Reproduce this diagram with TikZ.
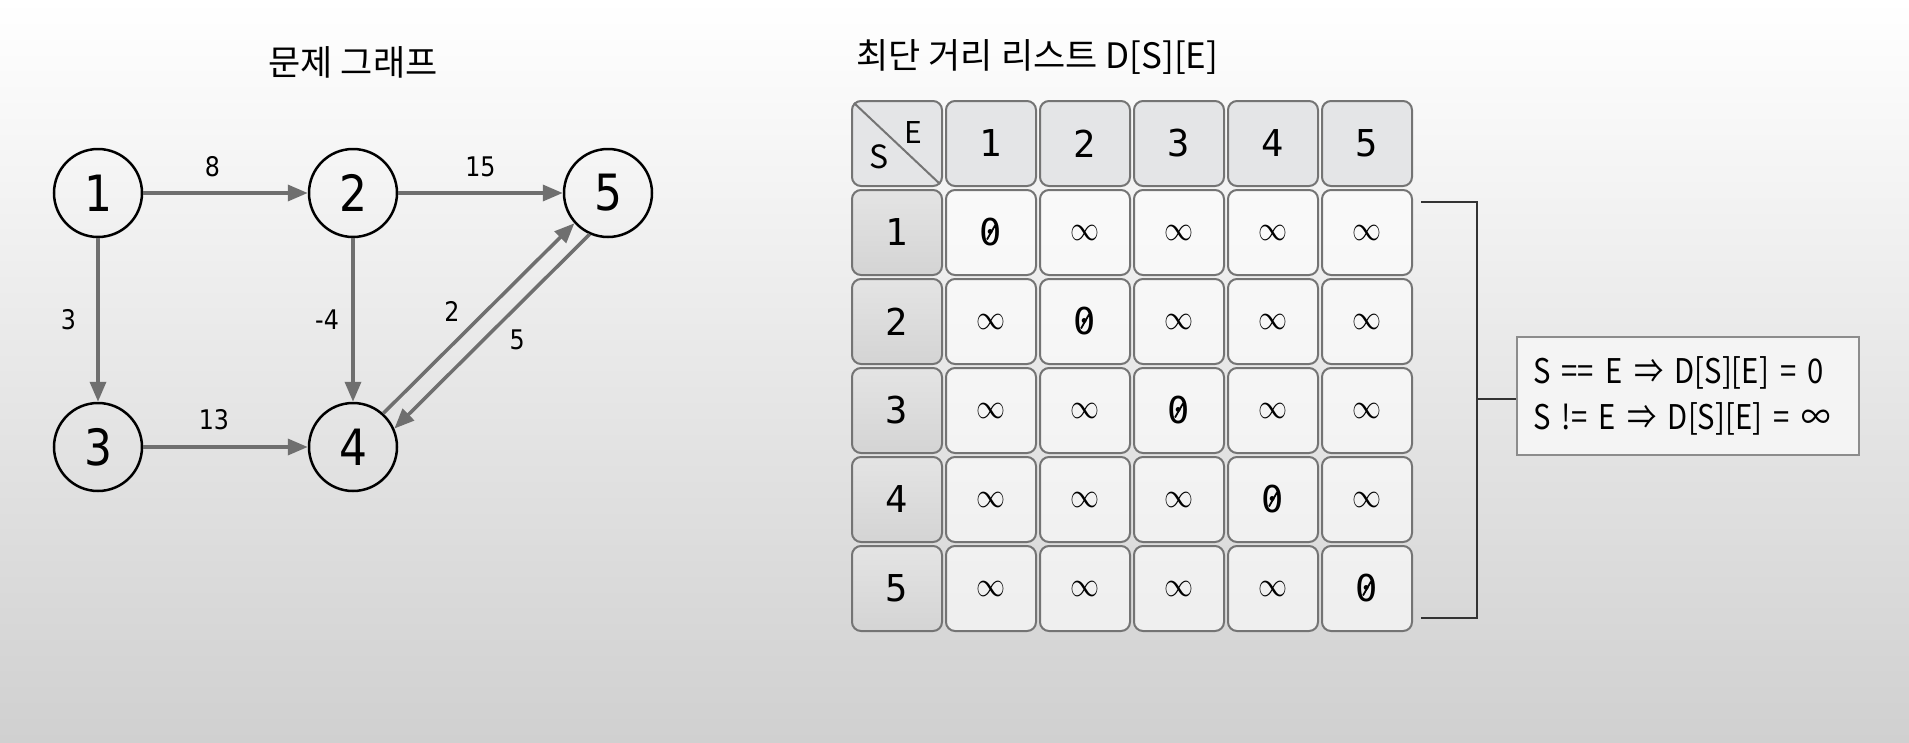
\documentclass[tikz,border=0pt]{standalone}
\usepackage{fontspec}
\usepackage{graphicx}
\usetikzlibrary{arrows.meta,positioning}
\setmainfont{Noto Sans CJK KR}
\newfontfamily\graphfont[FakeStretch=0.88]{DejaVu Sans}
\newfontfamily\cellfont{DejaVu Sans Mono}
\newfontfamily\rulefont[FakeStretch=0.86]{Noto Sans CJK KR}
\newcommand{\inftyval}{\resizebox{29pt}{15pt}{$\infty$}}
\definecolor{arrowgray}{HTML}{6F6F6F}
\definecolor{cellline}{HTML}{747474}
\definecolor{headfill}{HTML}{E4E5E7}
\definecolor{sidetop}{HTML}{E4E4E4}
\definecolor{sidebot}{HTML}{D4D4D4}
\definecolor{rulefill}{HTML}{F4F4F4}
\definecolor{bgmid}{HTML}{EEEEEE}
\definecolor{bgbot}{HTML}{D0D0D0}

\begin{document}
\begin{tikzpicture}[x=1pt,y=-1pt,auto,node distance=255pt,
        vertex/.style={circle,draw,line width=2.5pt,minimum size=88pt,inner sep=0pt,
            font=\fontsize{50}{50}\selectfont\graphfont},
        link/.style={draw=arrowgray,line width=3.5pt,-{Triangle[length=20pt,width=16pt]}},
        weight/.style={font=\fontsize{27}{27}\selectfont\graphfont},
        cellbox/.style={draw=cellline,line width=2pt,rounded corners=9pt,
            minimum width=90pt,minimum height=85pt,inner sep=0pt,
            font=\fontsize{37}{37}\selectfont\cellfont},
        headcell/.style={cellbox,fill=headfill},
        sidecell/.style={cellbox,top color=sidetop,bottom color=sidebot},
        valcell/.style={cellbox,fill=white,fill opacity=0.6,text opacity=1},
        bracket/.style={draw=black!80,line width=2.5pt},
        title/.style={font=\fontsize{35}{35}\selectfont}]

    % background
    \shade[top color=white,middle color=bgmid,bottom color=bgbot] (0,0) rectangle (1909,742);
    \useasboundingbox (0,0) rectangle (1909,742);

    % graph
    \node[title] (gtitle) at (353,62) {문제 그래프};
    \node[vertex] (n1) at (98,193) {1};
    \node[vertex] (n2) [right of=n1] {2};
    \node[vertex] (n5) [right of=n2] {5};
    \node[vertex] (n3) [below of=n1,node distance=254pt] {3};
    \node[vertex] (n4) [right of=n3] {4};

    \path (n1) edge[link] node[weight,pos=0.42,above=11pt] {8} (n2);
    \path (n2) edge[link] node[weight,pos=0.5,above=11pt] {15} (n5);
    \path (n1) edge[link] node[weight,left=17pt] {3} (n3);
    \path (n2) edge[link] node[weight,left=9pt] {-4} (n4);
    \path (n3) edge[link] node[weight,pos=0.43,above=12pt] {13} (n4);
    \path (n4.48) edge[link] node[weight,pos=0.44,above left=4pt] {2} (n5.222);
    \path (n5.246) edge[link] node[weight,pos=0.45,below right=4pt] {5} (n4.24);

    % distance table
    \node[anchor=west,title] (ttitle) at (853,57) {최단 거리 리스트 D[S][E]};
    \node[headcell] (corner) at (897,143.5) {};
    \draw[cellline,line width=2pt] ([shift={(3,3)}]corner.north west) -- ([shift={(-3,-3)}]corner.south east);
    \node[font=\fontsize{30}{30}\selectfont] (colE) at (913,133) {E};
    \node[font=\fontsize{32}{32}\selectfont] (rowS) at (879,157) {S};
    \foreach \c in {1,...,5}
        \node[headcell] (h\c) at (897+94*\c,143.5) {\c};
    \foreach \r in {1,...,5}
        \node[sidecell] (s\r) at (897,143.5+89*\r) {\r};
    \foreach \r in {1,...,5}
        \foreach \c in {1,...,5}
            \node[valcell] (d\r\c) at (897+94*\c,143.5+89*\r)
                {\ifnum\r=\c\relax 0\else\inftyval\fi};
    % slashed zeros
    \foreach \r in {1,...,5}
        \draw[line width=1.8pt] ([shift={(-4,7)}]d\r\r.center) -- ([shift={(4,-7)}]d\r\r.center);

    % init rule
    \node[draw=black!45,line width=1.5pt,fill=rulefill,minimum width=342pt,minimum height=118pt,
        text width=310pt,align=left,inner xsep=16pt,font=\fontsize{34}{46}\selectfont\rulefont]
        (rule) at (1688,396) {S == E ⇒ D[S][E] = 0\\S != E ⇒ D[S][E] = ∞};
    \coordinate (btop) at (1421,202);
    \coordinate (bbot) at (1421,618);
    \coordinate (bjoin) at (1477,399);
    \draw[bracket] (btop) -| (bjoin) |- (bbot);
    \draw[bracket] (bjoin) -- (rule.west |- bjoin);

\end{tikzpicture}
\end{document}
